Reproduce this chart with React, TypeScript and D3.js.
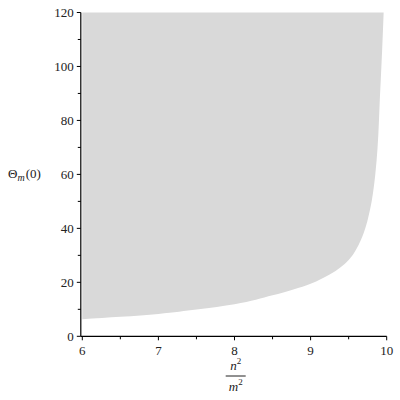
import React, {useRef, useEffect} from 'react';
import * as d3 from 'd3';

// n^2/m^2 values along the boundary curve
const ratio = [6, 6.5, 7, 7.5, 8, 8.5, 9, 9.25, 9.5, 9.6, 9.7, 9.78, 9.85, 9.88, 9.91, 9.94, 9.96];
// Theta_m(0) on the boundary
const theta = [6.3, 7.2, 8.3, 9.9, 11.9, 15.2, 19.5, 22.9, 28.3, 32.3, 38.5, 46.8, 60, 70, 88, 106, 120];

const xTicks = [6, 7, 8, 9, 10];
const xMinor = [6.5, 7.5, 8.5, 9.5];
const yTicks = [0, 20, 40, 60, 80, 100, 120];
const yMinor = [10, 30, 50, 70, 90, 110];

const W = 400;
const H = 400;

export default function App() {
  const ref = useRef<SVGSVGElement>(null);

  useEffect(() => {
    const svg = d3.select(ref.current);
    svg.selectAll('*').remove();

    const x = d3.scaleLinear().domain([6, 10]).range([82.3, 386.7]);
    const y = d3.scaleLinear().domain([0, 120]).range([336.3, 12.5]);

    const font = 'Liberation Serif';
    const fs = 13;

    // shaded region above the curve
    const pts: [number, number][] = ratio.map((r, i) => [x(r), y(theta[i])]);
    const boundary = d3.line().curve(d3.curveMonotoneY)(pts);

    svg.append('path')
      .attr('d', `${boundary}L${x(6)},${y(120)}Z`)
      .attr('fill', '#d9d9d9');

    const axisX = 80.8;
    const axisY = 336.3;

    // axis lines
    svg.append('line')
      .attr('x1', axisX).attr('x2', axisX)
      .attr('y1', y(120)).attr('y2', axisY)
      .attr('stroke', '#000').attr('stroke-width', 1.2);
    svg.append('line')
      .attr('x1', axisX).attr('x2', x(10))
      .attr('y1', axisY).attr('y2', axisY)
      .attr('stroke', '#000').attr('stroke-width', 1.2);

    // y ticks
    yTicks.forEach(v => {
      svg.append('line')
        .attr('x1', axisX - 4).attr('x2', axisX)
        .attr('y1', y(v)).attr('y2', y(v))
        .attr('stroke', '#000');
      svg.append('text')
        .attr('x', axisX - 7)
        .attr('y', y(v))
        .attr('dy', '0.35em')
        .attr('text-anchor', 'end')
        .style('font-family', font)
        .attr('font-size', fs)
        .attr('fill', '#222')
        .text(v);
    });
    yMinor.forEach(v => {
      svg.append('line')
        .attr('x1', axisX - 3).attr('x2', axisX)
        .attr('y1', y(v)).attr('y2', y(v))
        .attr('stroke', '#000');
    });

    // x ticks
    xTicks.forEach(v => {
      svg.append('line')
        .attr('x1', x(v)).attr('x2', x(v))
        .attr('y1', axisY).attr('y2', axisY + 4)
        .attr('stroke', '#000');
      svg.append('text')
        .attr('x', x(v))
        .attr('y', axisY + 19)
        .attr('text-anchor', 'middle')
        .style('font-family', font)
        .attr('font-size', fs)
        .attr('fill', '#222')
        .text(v);
    });
    xMinor.forEach(v => {
      svg.append('line')
        .attr('x1', x(v)).attr('x2', x(v))
        .attr('y1', axisY).attr('y2', axisY + 3)
        .attr('stroke', '#000');
    });

    // y label: Θ_m(0)
    const yl = svg.append('text')
      .attr('x', 8)
      .attr('y', 178)
      .style('font-family', font)
      .attr('font-size', fs)
      .attr('fill', '#222');
    yl.append('tspan').text('Θ');
    yl.append('tspan').attr('font-style', 'italic').attr('font-size', 10).attr('dy', 3).text('m');
    yl.append('tspan').attr('dy', -3).attr('dx', 1).text('(0)');

    // x label: n^2 / m^2
    const cx = 235.7;
    const num = svg.append('text')
      .attr('x', cx)
      .attr('y', 370)
      .attr('text-anchor', 'middle')
      .style('font-family', font)
      .attr('font-size', fs)
      .attr('fill', '#222');
    num.append('tspan').attr('font-style', 'italic').text('n');
    num.append('tspan').attr('font-size', 9).attr('dy', -6).text('2');

    svg.append('line')
      .attr('x1', cx - 10).attr('x2', cx + 10)
      .attr('y1', 376).attr('y2', 376)
      .attr('stroke', '#222');

    const den = svg.append('text')
      .attr('x', cx)
      .attr('y', 391)
      .attr('text-anchor', 'middle')
      .style('font-family', font)
      .attr('font-size', fs)
      .attr('fill', '#222');
    den.append('tspan').attr('font-style', 'italic').text('m');
    den.append('tspan').attr('font-size', 9).attr('dy', -6).text('2');
  }, []);

  return (
    <svg ref={ref} width={W} height={H}
         style={{position: 'absolute', left: 0, top: 0, background: '#fff'}}></svg>
  );
}
